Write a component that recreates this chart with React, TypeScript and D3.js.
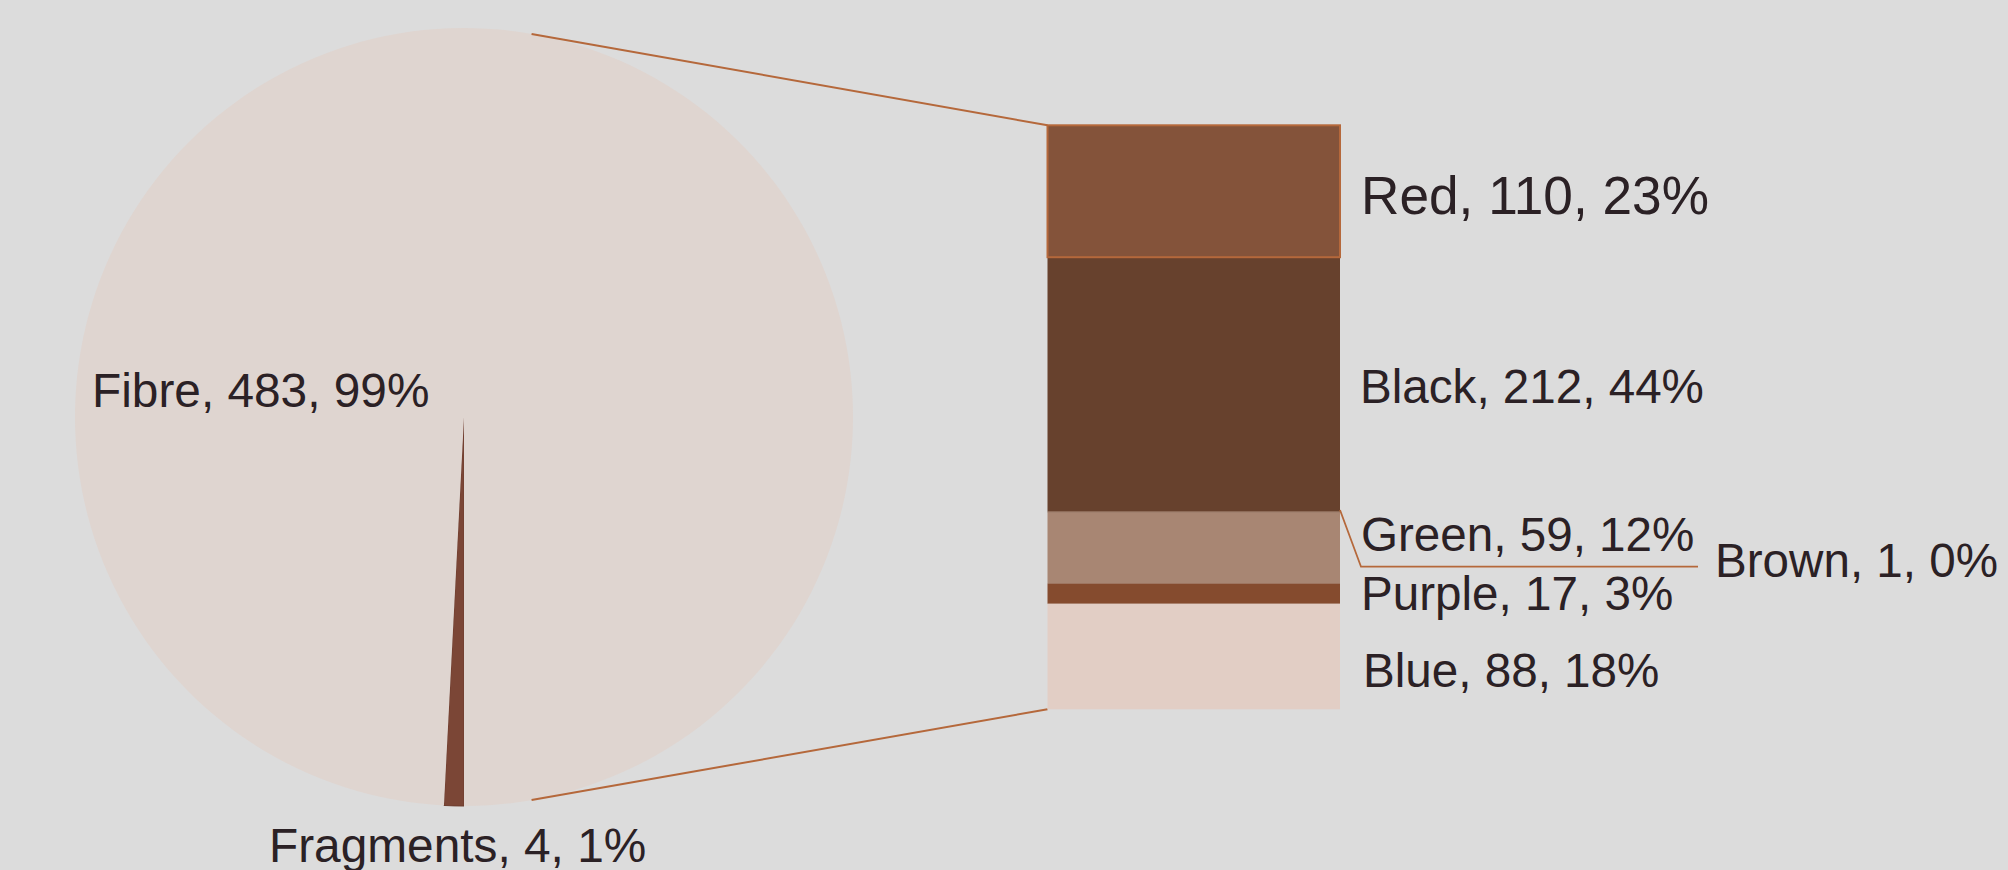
import React from "react";
import * as d3 from "d3";

// ---- data ----
const pieCategories = ["Fragments", "Fibre"];
const pieValues = [4, 483];
const piePercents = ["1%", "99%"];

const barCategories = ["Red", "Black", "Brown", "Green", "Purple", "Blue"];
const barValues = [110, 212, 1, 59, 17, 88];
const barPercents = ["23%", "44%", "0%", "12%", "3%", "18%"];

// ---- styles / layout ----
const W = 2008;
const H = 870;
const BG = "#dcdcdc";
const TEXT = "#2b2125";
const LINE = "#b5683b";
const pieColors: Record<string, string> = { Fibre: "#dfd5d0", Fragments: "#7b4636" };
const barColors: Record<string, string> = {
  Red: "#84533a",
  Black: "#67412d",
  Brown: "#7a4a30",
  Green: "#a88673",
  Purple: "#854b2e",
  Blue: "#e2cec5",
};
const cx = 464;
const cy = 417;
const R = 389;
const barX0 = 1047.5;
const barX1 = 1340;
const barTop = 125.3;
const barBottom = 709.3;
const connectAngle = (10 * Math.PI) / 180;

const pieLabelPos: Record<string, { x: number; y: number; size: number }> = {
  Fibre: { x: 92, y: 406.5, size: 47.8 },
  Fragments: { x: 269, y: 861.5, size: 47.8 },
};
const barLabelPos: Record<string, { x: number; y: number; size: number }> = {
  Red: { x: 1361, y: 214.3, size: 53.2 },
  Black: { x: 1360, y: 403.3, size: 47.6 },
  Green: { x: 1361, y: 550.7, size: 47.6 },
  Brown: { x: 1715, y: 577.3, size: 47.6 },
  Purple: { x: 1361, y: 610, size: 47.6 },
  Blue: { x: 1363, y: 686.7, size: 47.6 },
};

export default function App() {
  const pie = d3
    .pie<number>()
    .sort(null)
    .startAngle(Math.PI)
    .endAngle(3 * Math.PI);
  const arcs = pie(pieValues);
  const arcGen = d3.arc<d3.PieArcDatum<number>>().innerRadius(0).outerRadius(R);

  const total = d3.sum(barValues);
  const y = d3.scaleLinear().domain([0, total]).range([barTop, barBottom]);
  const cum = d3.cumsum(barValues);
  const segs = barValues.map((v, i) => ({
    name: barCategories[i],
    v,
    pct: barPercents[i],
    y0: y(cum[i] - v),
    y1: y(cum[i]),
  }));

  const topPt = [cx + R * Math.sin(connectAngle), cy - R * Math.cos(connectAngle)];
  const botPt = [cx + R * Math.sin(connectAngle), cy + R * Math.cos(connectAngle)];

  const brown = segs.find((s) => s.name === "Brown")!;
  const bl = barLabelPos.Brown;
  const greenLbl = barLabelPos.Green;
  const leaderY = 566.7;

  const font = "'Liberation Sans', Arial, Helvetica, sans-serif";

  return (
    <svg
      width={W}
      height={H}
      style={{ position: "absolute", left: 0, top: 0, display: "block" }}
    >
      <rect x={0} y={0} width={W} height={H} fill={BG} />
      <g transform={`translate(${cx},${cy})`}>
        {arcs.map((a, i) => (
          <path
            key={pieCategories[i]}
            d={arcGen(a) || ""}
            fill={pieColors[pieCategories[i]]}
            stroke={pieCategories[i] === "Fragments" ? "#6e3d2e" : "none"}
            strokeWidth={1}
          />
        ))}
      </g>
      {pieCategories.map((c, i) => {
        const p = pieLabelPos[c];
        return (
          <text
            key={c}
            x={p.x}
            y={p.y}
            fontSize={p.size}
            fontFamily={font}
            fill={TEXT}
          >
            {`${c}, ${pieValues[i]}, ${piePercents[i]}`}
          </text>
        );
      })}

      {/* connector lines */}
      <line x1={topPt[0]} y1={topPt[1]} x2={barX0} y2={barTop} stroke={LINE} strokeWidth={2} />
      <line x1={botPt[0]} y1={botPt[1]} x2={barX0} y2={barBottom} stroke={LINE} strokeWidth={2} />

      {/* bar of pie */}
      {segs.map((s) => (
        <rect
          key={s.name}
          x={barX0}
          y={s.y0}
          width={barX1 - barX0}
          height={Math.max(s.y1 - s.y0, 0.5)}
          fill={barColors[s.name]}
        />
      ))}
      {(() => {
        const r = segs[0];
        return (
          <rect
            x={barX0}
            y={r.y0}
            width={barX1 - barX0}
            height={r.y1 - r.y0}
            fill="none"
            stroke={LINE}
            strokeWidth={2}
          />
        );
      })()}

      {/* leader line for Brown */}
      <polyline
        points={`${barX1},${(brown.y0 + brown.y1) / 2 - 2} ${greenLbl.x},${leaderY} ${bl.x - 17},${leaderY}`}
        fill="none"
        stroke={LINE}
        strokeWidth={1.8}
      />

      {segs.map((s) => {
        const p = barLabelPos[s.name];
        return (
          <text
            key={s.name}
            x={p.x}
            y={p.y}
            fontSize={p.size}
            fontFamily={font}
            fill={TEXT}
          >
            {`${s.name}, ${s.v}, ${s.pct}`}
          </text>
        );
      })}
    </svg>
  );
}
